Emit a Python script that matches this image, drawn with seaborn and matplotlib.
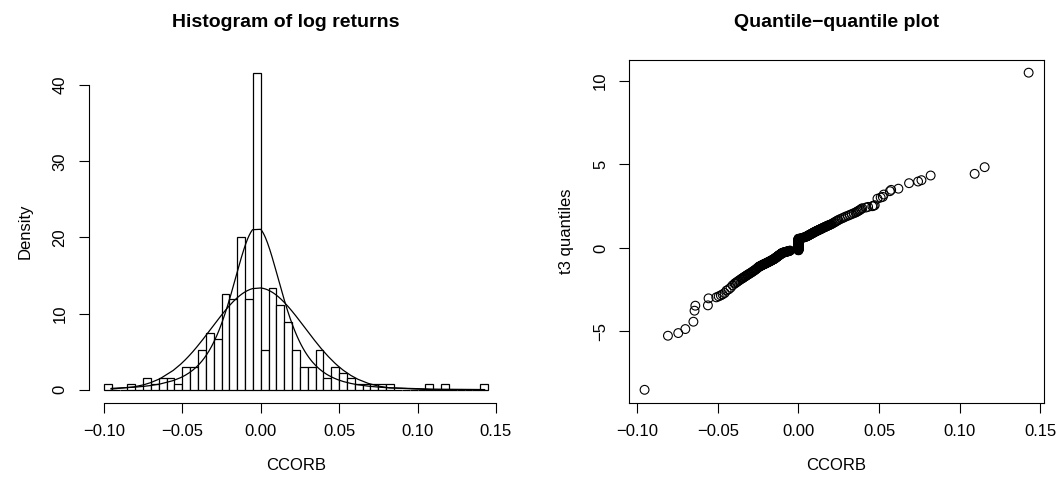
import math
import numpy as np
import pandas as pd
import matplotlib
matplotlib.use('Agg')
import matplotlib.pyplot as plt
import seaborn as sns

ccorb = [
    -0.0955, -0.0810, -0.0746, -0.0702, -0.0652, -0.0645, -0.0640, -0.0562, -0.0558, -0.0510,
    -0.0495, -0.0482, -0.0471, -0.0458, -0.0446, -0.0433, -0.0421, -0.0409,
    -0.0396, -0.0391, -0.0383, -0.0376, -0.0369, -0.0361, -0.0354,
    -0.0348, -0.0344, -0.0339, -0.0334, -0.0329, -0.0324, -0.0319, -0.0314, -0.0309, -0.0304,
    -0.0297, -0.0291, -0.0286, -0.0280, -0.0275, -0.0269, -0.0264, -0.0259, -0.0254,
    -0.0248, -0.0246, -0.0243, -0.0240, -0.0237, -0.0234, -0.0231, -0.0228, -0.0225, -0.0222,
    -0.0219, -0.0216, -0.0213, -0.0210, -0.0207, -0.0204, -0.0201,
    -0.0198, -0.0195, -0.0191, -0.0188, -0.0185, -0.0182, -0.0178, -0.0175, -0.0172, -0.0169,
    -0.0166, -0.0163, -0.0160, -0.0157, -0.0154, -0.0151,
    -0.0149, -0.0147, -0.0146, -0.0144, -0.0142, -0.0140, -0.0138, -0.0137, -0.0135, -0.0133,
    -0.0131, -0.0129, -0.0127, -0.0126, -0.0124, -0.0122, -0.0120, -0.0118, -0.0116, -0.0114,
    -0.0112, -0.0111, -0.0109, -0.0107, -0.0105, -0.0103, -0.0101,
    -0.0098, -0.0095, -0.0092, -0.0089, -0.0086, -0.0083, -0.0080, -0.0077, -0.0074, -0.0070,
    -0.0067, -0.0064, -0.0061, -0.0058, -0.0055, -0.0052,
    0, 0, 0, 0, 0, 0, 0, 0, 0, 0, 0, 0, 0, 0, 0, 0, 0, 0, 0, 0,
    0, 0, 0, 0, 0, 0, 0, 0, 0, 0, 0, 0, 0, 0, 0, 0, 0, 0, 0, 0,
    0, 0, 0, 0, 0, 0, 0, 0, 0, 0, 0, 0, 0, 0, 0, 0,
    0.0008, 0.0015, 0.0022, 0.0030, 0.0037, 0.0043, 0.0049,
    0.0052, 0.0055, 0.0058, 0.0060, 0.0063, 0.0066, 0.0069, 0.0072, 0.0075, 0.0077,
    0.0080, 0.0083, 0.0086, 0.0089, 0.0091, 0.0094, 0.0097, 0.0099,
    0.0103, 0.0106, 0.0109, 0.0112, 0.0115, 0.0118, 0.0122, 0.0125, 0.0128, 0.0131,
    0.0135, 0.0138, 0.0141, 0.0144, 0.0148,
    0.0152, 0.0156, 0.0160, 0.0164, 0.0168, 0.0172, 0.0176, 0.0180, 0.0184, 0.0188, 0.0193, 0.0198,
    0.0205, 0.0212, 0.0219, 0.0226, 0.0233, 0.0240, 0.0247,
    0.0257, 0.0269, 0.0281, 0.0293, 0.0307, 0.0319, 0.0331, 0.0343,
    0.0354, 0.0361, 0.0368, 0.0375, 0.0382, 0.0389, 0.0396,
    0.0418, 0.0432, 0.0458, 0.0466, 0.0473, 0.0490, 0.0510, 0.0523, 0.0529,
    0.0567, 0.0575, 0.0620, 0.0686, 0.0742, 0.0763, 0.0820, 0.1093, 0.1155, 0.1428,
]

# sorted t(3) sample plotted against the returns
t3_quantiles = [
    -8.50, -5.26, -5.10, -4.86, -4.42, -3.76, -3.46, -3.44, -3.02, -2.96,
    -2.90, -2.84, -2.78, -2.70, -2.55, -2.48, -2.38, -2.24,
    -2.14, -2.10, -2.05, -2.00, -1.95, -1.90, -1.85,
    -1.82, -1.79, -1.76, -1.72, -1.70, -1.66, -1.63, -1.60, -1.57, -1.54,
    -1.50, -1.46, -1.43, -1.39, -1.35, -1.32, -1.28, -1.24, -1.20,
    -1.15, -1.13, -1.12, -1.10, -1.09, -1.07, -1.06, -1.04, -1.03, -1.01,
    -1.00, -0.98, -0.97, -0.96, -0.94, -0.93, -0.92,
    -0.90, -0.88, -0.87, -0.85, -0.84, -0.82, -0.80, -0.79, -0.77, -0.76,
    -0.74, -0.72, -0.71, -0.69, -0.68, -0.66,
    -0.65, -0.64, -0.62, -0.61, -0.60, -0.58, -0.57, -0.56, -0.54, -0.53,
    -0.52, -0.50, -0.49, -0.48, -0.46, -0.45, -0.44, -0.42, -0.41, -0.40,
    -0.38, -0.37, -0.36, -0.34, -0.33, -0.32, -0.30,
    -0.29, -0.28, -0.27, -0.27, -0.26, -0.25, -0.24, -0.23, -0.22, -0.21,
    -0.21, -0.20, -0.19, -0.18, -0.17, -0.16,
    -0.14, -0.13, -0.12, -0.10, -0.09, -0.08, -0.06, -0.05, -0.04, -0.03,
    -0.01, 0.00, 0.01, 0.03, 0.04, 0.05, 0.06, 0.08, 0.09, 0.10,
    0.11, 0.13, 0.14, 0.15, 0.16, 0.18, 0.19, 0.20, 0.21, 0.23,
    0.24, 0.25, 0.26, 0.28, 0.29, 0.30, 0.31, 0.33, 0.34, 0.35,
    0.36, 0.38, 0.39, 0.40, 0.41, 0.43, 0.44, 0.45, 0.46, 0.48,
    0.49, 0.50, 0.51, 0.53, 0.54, 0.55,
    0.56, 0.58, 0.60, 0.62, 0.64, 0.66, 0.68,
    0.70, 0.71, 0.73, 0.74, 0.76, 0.77, 0.79, 0.80, 0.82, 0.83,
    0.85, 0.86, 0.88, 0.89, 0.91, 0.92, 0.94, 0.95,
    0.97, 0.98, 1.00, 1.01, 1.03, 1.04, 1.06, 1.07, 1.09, 1.10,
    1.12, 1.13, 1.15, 1.16, 1.18,
    1.20, 1.22, 1.24, 1.25, 1.27, 1.29, 1.31, 1.33, 1.34, 1.36, 1.38, 1.40,
    1.43, 1.47, 1.51, 1.55, 1.59, 1.63, 1.67,
    1.72, 1.77, 1.82, 1.88, 1.93, 1.98, 2.03, 2.08,
    2.12, 2.16, 2.20, 2.24, 2.28, 2.33, 2.38,
    2.42, 2.46, 2.50, 2.53, 2.56, 2.95, 3.02, 3.06, 3.20,
    3.40, 3.48, 3.55, 3.88, 3.98, 4.06, 4.34, 4.44, 4.84, 10.50,
]

# fitted densities drawn over the histogram
norm_mu, norm_sigma = -0.0015, 0.0298
t_df, t_loc, t_scale = 3, -0.0025, 0.0172

bin_start, bin_stop, bin_width = -0.100, 0.145, 0.005
hist_xticks = [-0.10, -0.05, 0.00, 0.05, 0.10, 0.15]
density_ticks = [0, 10, 20, 30, 40]
qq_xticks = [-0.10, -0.05, 0.00, 0.05, 0.10, 0.15]
qq_yticks = [-5, 0, 5, 10]


def padded(lo, hi, frac=0.04):
    r = hi - lo
    return lo - frac * r, hi + frac * r


def minus(s):
    return s.replace('-', '\u2212')


def main():
    sns.set_theme(style='ticks')
    plt.rcParams['font.family'] = ['Liberation Sans', 'DejaVu Sans']
    plt.rcParams['text.color'] = 'black'
    plt.rcParams['axes.labelcolor'] = 'black'

    x = np.array(ccorb)
    q = np.array(t3_quantiles)

    # R style right-closed bins
    edges = np.round(np.arange(bin_start, bin_stop + bin_width / 2, bin_width), 4)
    idx = np.clip(np.searchsorted(edges, x, side='left') - 1, 0, len(edges) - 2)
    counts = np.bincount(idx, minlength=len(edges) - 1)
    hist_df = pd.DataFrame({'mid': (edges[:-1] + edges[1:]) / 2, 'count': counts})

    fig = plt.figure(figsize=(10.63, 4.87), dpi=100)
    W, H = 1063, 487
    ax1 = fig.add_axes([88.5 / W, (H - 402.5) / H, 415 / W, 342.5 / H])
    ax2 = fig.add_axes([629.2 / W, (H - 402.5) / H, 414.8 / W, 342.5 / H])

    # histogram
    sns.histplot(data=hist_df, x='mid', weights='count', bins=edges.tolist(), stat='density',
                 ax=ax1, color='white', edgecolor='black', linewidth=0.9, alpha=1)

    xs = np.unique(x)
    norm_pdf = np.exp(-0.5 * ((xs - norm_mu) / norm_sigma) ** 2) / (norm_sigma * math.sqrt(2 * math.pi))
    c = math.gamma((t_df + 1) / 2) / (math.sqrt(t_df * math.pi) * math.gamma(t_df / 2))
    z = (xs - t_loc) / t_scale
    t_pdf = c * (1 + z ** 2 / t_df) ** (-(t_df + 1) / 2) / t_scale
    sns.lineplot(x=xs, y=norm_pdf, color='black', linewidth=0.9, estimator=None, ax=ax1)
    sns.lineplot(x=xs, y=t_pdf, color='black', linewidth=0.9, estimator=None, ax=ax1)

    dens_max = counts.max() / (counts.sum() * bin_width)
    ax1.set_xlim(*padded(edges[0], edges[-1]))
    ax1.set_ylim(*padded(0, dens_max))
    ax1.set_xticks(hist_xticks)
    ax1.set_xticklabels([minus(f'{v:.2f}') for v in hist_xticks])
    ax1.set_yticks(density_ticks)
    ax1.set_yticklabels([str(v) for v in density_ticks], rotation=90, va='center')
    for s in ['top', 'right']:
        ax1.spines[s].set_visible(False)
    ax1.spines['bottom'].set_bounds(hist_xticks[0], hist_xticks[-1])
    ax1.spines['left'].set_bounds(density_ticks[0], density_ticks[-1])
    ax1.set_title('Histogram of log returns', fontsize=14, fontweight='bold', pad=24,
                  x=(286 - 88.5) / 415, color='black')
    ax1.set_xlabel('CCORB', fontsize=12, labelpad=14)
    ax1.set_ylabel('Density', fontsize=12, labelpad=14)

    # qq plot
    sns.scatterplot(x=np.sort(x), y=np.sort(q), ax=ax2, marker='o', s=40,
                    facecolor='none', edgecolor='black', linewidth=0.8)
    ax2.set_xlim(*padded(x.min(), x.max()))
    ax2.set_ylim(*padded(q.min(), q.max()))
    ax2.set_xticks(qq_xticks)
    ax2.set_xticklabels([minus(f'{v:.2f}') for v in qq_xticks])
    ax2.set_yticks(qq_yticks)
    ax2.set_yticklabels([minus(str(v)) for v in qq_yticks], rotation=90, va='center')
    ax2.set_title('Quantile\u2212quantile plot', fontsize=14, fontweight='bold', pad=24,
                  color='black')
    ax2.set_xlabel('CCORB', fontsize=12, labelpad=14)
    ax2.set_ylabel('t3 quantiles', fontsize=12, labelpad=14)

    for ax in (ax1, ax2):
        ax.set_facecolor('white')
        ax.tick_params(direction='out', length=7.2, width=0.8, color='black',
                       labelsize=12, pad=8, labelcolor='black')
        for sp in ax.spines.values():
            sp.set_color('black')
            sp.set_linewidth(0.8)
        ax.grid(False)

    fig.savefig('out.png', dpi=100, facecolor='white')
    plt.close(fig)


if __name__ == '__main__':
    main()
